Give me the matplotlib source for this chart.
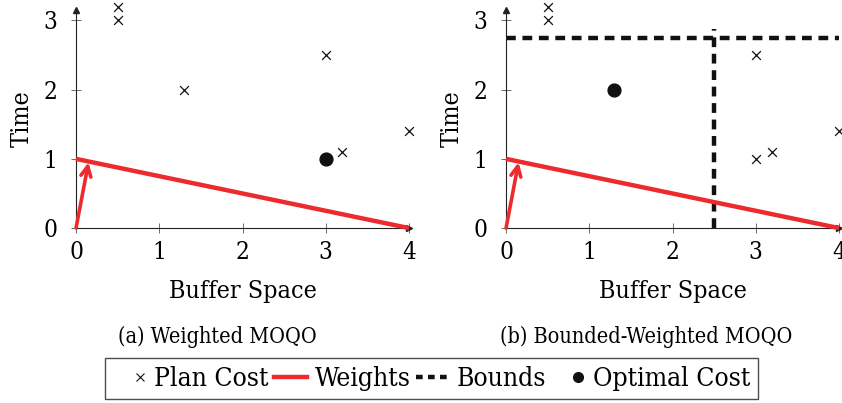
import matplotlib.pyplot as plt
from matplotlib.lines import Line2D
from matplotlib.legend_handler import HandlerLine2D

plt.rcParams['font.family'] = ['DejaVu Serif']
plt.rcParams['font.stretch'] = 'condensed'

# plan costs (buffer space, time) for each panel
plan_x_a = [0.5, 0.5, 1.3, 3.0, 3.2, 4.0]
plan_y_a = [3.2, 3.0, 2.0, 2.5, 1.1, 1.4]
opt_a = (3.0, 1.0)

plan_x_b = [0.5, 0.5, 3.0, 3.0, 3.2, 4.0]
plan_y_b = [3.2, 3.0, 2.5, 1.0, 1.1, 1.4]
opt_b = (1.3, 2.0)

# weight line and weight vector
weight_x = [0, 4]
weight_y = [1, 0]
weight_vec = (0.15, 0.95)

# bounds for panel (b)
bound_buffer = 2.5
bound_time = 2.75
bound_top = 2.87

ticks_x = [0, 1, 2, 3, 4]
ticks_y = [0, 1, 2, 3]
captions = ['(a) Weighted MOQO', '(b) Bounded-Weighted MOQO']

red = '#ED2B2F'


class TightMarker(HandlerLine2D):
    # put marker-only handles right next to their label
    def create_artists(self, legend, orig_handle, xdescent, ydescent,
                       width, height, fontsize, trans):
        arts = super().create_artists(legend, orig_handle, xdescent, ydescent,
                                      width, height, fontsize, trans)
        for a in arts:
            n = len(a.get_xdata())
            a.set_xdata([width - xdescent - 0.25 * fontsize] * n)
        return arts


fig = plt.figure(figsize=(8.42, 4.03), dpi=100)
ax_a = fig.add_axes([0.0903, 0.434, 0.3955, 0.541])
ax_b = fig.add_axes([0.601, 0.434, 0.3955, 0.541])


def draw_panel(ax, px, py, opt, caption, cap_x):
    ax.set_xlim(0, 4.0)
    ax.set_ylim(0, 3.15)
    for s in ['top', 'right']:
        ax.spines[s].set_visible(False)
    for s in ['left', 'bottom']:
        ax.spines[s].set_linewidth(0.8)
        ax.spines[s].set_color('#222222')
    ax.set_xticks(ticks_x)
    ax.set_yticks(ticks_y)
    ax.tick_params(direction='inout', length=7, width=0.6, color='#555555',
                   labelsize=17.5)
    ax.tick_params(axis='x', pad=6)
    ax.tick_params(axis='y', pad=10)
    # axis arrow heads
    ax.plot([0], [1.0], marker='^', ms=5, color='#222222',
            transform=ax.transAxes, clip_on=False)
    ax.plot([1.0], [0], marker='>', ms=5, color='#222222',
            transform=ax.transAxes, clip_on=False)

    ax.plot(weight_x, weight_y, color=red, lw=3.2, solid_capstyle='butt',
            clip_on=False, zorder=3)
    ax.annotate('', xy=weight_vec, xytext=(0, 0),
                arrowprops=dict(arrowstyle='->', color=red, lw=2.6,
                                mutation_scale=18, shrinkA=0, shrinkB=0),
                annotation_clip=False, zorder=3)

    ax.scatter(px, py, marker='x', s=40, color='#111111', linewidths=0.9,
               clip_on=False, zorder=4)
    ax.scatter([opt[0]], [opt[1]], marker='o', s=85, color='#111111',
               clip_on=False, zorder=4)

    ax.set_xlabel('Buffer Space', fontsize=18, labelpad=11)
    ax.set_ylabel('Time', fontsize=18, labelpad=7)
    fig.text(cap_x, 0.163, caption, ha='center', va='center', fontsize=15.5)


draw_panel(ax_a, plan_x_a, plan_y_a, opt_a, captions[0], 0.258)
draw_panel(ax_b, plan_x_b, plan_y_b, opt_b, captions[1], 0.768)

ax_b.plot([bound_buffer, bound_buffer], [0, bound_top], color='#111111',
          lw=3.2, ls=(0, (2.2, 1.5)), clip_on=False, zorder=2)
ax_b.plot([0, 4.0], [bound_time, bound_time], color='#111111',
          lw=3.2, ls=(0, (2.2, 1.5)), clip_on=False, zorder=2)

h_plan = Line2D([], [], ls='none', marker='x', ms=6, mew=0.8, color='#111111')
h_weight = Line2D([], [], color=red, lw=3.2)
h_bound = Line2D([], [], color='#111111', lw=3.2, ls=(0, (1.5, 1.2)))
h_opt = Line2D([], [], ls='none', marker='o', ms=7, color='#111111')
labels = ['Plan Cost', 'Weights', 'Bounds', 'Optimal Cost']
fig.legend([h_plan, h_weight, h_bound, h_opt], labels, loc='center',
           bbox_to_anchor=(0.5125, 0.06), ncol=4, frameon=True,
           fancybox=False, edgecolor='#222222', fontsize=19,
           handlelength=1.25, handletextpad=0.3, columnspacing=0.2,
           borderpad=0.3, borderaxespad=0, numpoints=1,
           handler_map={h_plan: TightMarker(), h_opt: TightMarker()})

fig.savefig('out.png', dpi=100)
